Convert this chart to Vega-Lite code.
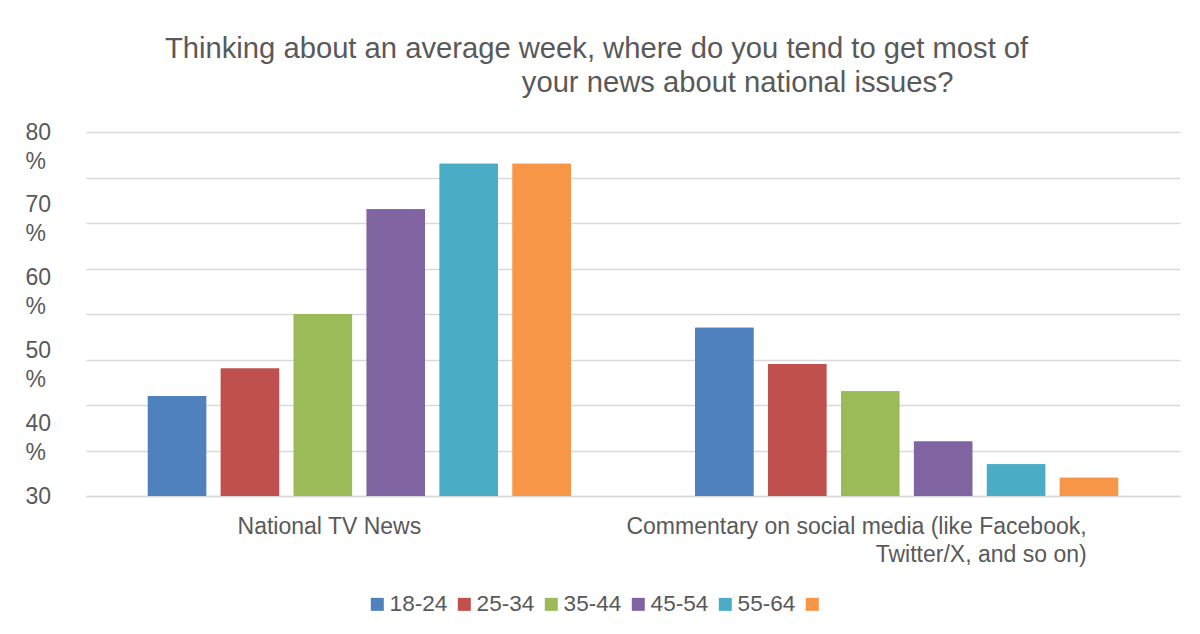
{
  "$schema": "https://vega.github.io/schema/vega-lite/v6.json",
  "width": 1094,
  "height": 364,
  "autosize": {"type": "none"},
  "padding": {"left": 86, "top": 132, "right": 20, "bottom": 138},
  "background": "white",
  "title": {
    "text": [
      "Thinking about an average week, where do you tend to get most of",
      "\u200b\u00a0\u00a0\u00a0\u00a0\u00a0\u00a0\u00a0\u00a0\u00a0\u00a0\u00a0\u00a0\u00a0\u00a0\u00a0\u00a0\u00a0\u00a0\u00a0\u00a0\u00a0\u00a0\u00a0\u00a0\u00a0\u00a0\u00a0\u00a0\u00a0\u00a0\u00a0\u00a0\u00a0\u00a0\u00a0\u00a0\u00a0\u00a0\u00a0\u00a0\u00a0\u00a0\u00a0\u00a0your news about national issues?"
    ],
    "anchor": "start",
    "frame": "group",
    "dx": 79,
    "fontSize": 29.2,
    "lineHeight": 34,
    "font": "Liberation Sans",
    "fontWeight": "normal",
    "color": "#595959",
    "offset": 23
  },
  "data": {
    "values": [
      {"source": "National TV News", "age": "18-24", "pct": 22},
      {"source": "National TV News", "age": "25-34", "pct": 28},
      {"source": "National TV News", "age": "35-44", "pct": 40},
      {"source": "National TV News", "age": "45-54", "pct": 63},
      {"source": "National TV News", "age": "55-64", "pct": 73},
      {"source": "National TV News", "age": "65+", "pct": 73},
      {"source": "Commentary on social media (like Facebook, Twitter/X, and so on)", "age": "18-24", "pct": 37},
      {"source": "Commentary on social media (like Facebook, Twitter/X, and so on)", "age": "25-34", "pct": 29},
      {"source": "Commentary on social media (like Facebook, Twitter/X, and so on)", "age": "35-44", "pct": 23},
      {"source": "Commentary on social media (like Facebook, Twitter/X, and so on)", "age": "45-54", "pct": 12},
      {"source": "Commentary on social media (like Facebook, Twitter/X, and so on)", "age": "55-64", "pct": 7},
      {"source": "Commentary on social media (like Facebook, Twitter/X, and so on)", "age": "65+", "pct": 4}
    ]
  },
  "encoding": {
    "x": {
      "field": "source",
      "type": "nominal",
      "sort": ["National TV News", "Commentary on social media (like Facebook, Twitter/X, and so on)"],
      "scale": {"paddingInner": 0.227, "paddingOuter": 0.113},
      "axis": {
        "title": null,
        "labelAngle": 0,
        "domain": true,
        "domainColor": "#d9d9d9",
        "domainWidth": 1.5,
        "ticks": false,
        "tickSize": 0,
        "labelPadding": 19,
        "labelFontSize": 23,
        "labelFont": "Liberation Sans",
        "labelColor": "#595959",
        "labelLimit": 0,
        "labelLineHeight": 28,
        "labelBaseline": "top",
        "labelExpr": "datum.value == 'National TV News' ? datum.label : ['Commentary on social media (like Facebook,', 'Twitter/X, and so on)']",
        "labelAlign": {"condition": {"test": "datum.value == 'National TV News'", "value": "center"}, "value": "right"},
        "labelOffset": {"condition": {"test": "datum.value == 'National TV News'", "value": -30}, "value": 180}
      }
    },
    "xOffset": {
      "field": "age",
      "type": "nominal",
      "sort": ["18-24", "25-34", "35-44", "45-54", "55-64", "65+"],
      "scale": {"paddingInner": 0.2, "paddingOuter": 0}
    },
    "color": {
      "field": "age",
      "type": "nominal",
      "sort": ["18-24", "25-34", "35-44", "45-54", "55-64", "65+"],
      "scale": {
        "domain": ["18-24", "25-34", "35-44", "45-54", "55-64", "65+"],
        "range": ["#4F81BD", "#C0504D", "#9BBB59", "#8064A2", "#4BACC6", "#F79646"]
      },
      "legend": {
        "title": null,
        "orient": "none",
        "legendX": 280,
        "legendY": 461,
        "direction": "horizontal",
        "symbolType": "square",
        "symbolSize": 169,
        "symbolStrokeWidth": 0,
        "labelFontSize": 22.6,
        "labelFont": "Liberation Sans",
        "labelColor": "#595959",
        "labelOffset": 1,
        "columnPadding": 5,
        "labelExpr": "datum.label == '65+' ? '' : datum.label"
      }
    }
  },
  "layer": [
    {
      "mark": {"type": "bar"},
      "encoding": {
        "y": {
          "field": "pct",
          "type": "quantitative",
          "scale": {"domain": [0, 80], "nice": false},
          "axis": {
            "orient": "left",
            "values": [0, 10, 20, 30, 40, 50, 60, 70, 80],
            "grid": true,
            "gridColor": "#d9d9d9",
            "gridWidth": 1.5,
            "labels": false,
            "ticks": false,
            "domain": false,
            "title": null
          }
        }
      }
    },
    {
      "mark": {"type": "bar"},
      "encoding": {
        "y": {
          "field": "pct",
          "type": "quantitative",
          "scale": {"domain": [0, 80], "nice": false},
          "axis": {
            "orient": "left",
            "values": [0, 16, 32, 48, 64, 80],
            "grid": false,
            "ticks": false,
            "tickSize": 0,
            "domain": false,
            "title": null,
            "labelAlign": "left",
            "labelPadding": 61,
            "labelBaseline": "middle",
            "labelOffset": 0,
            "labelLineHeight": 29,
            "labelFontSize": 23,
            "labelFont": "Liberation Sans",
            "labelColor": "#595959",
            "labelExpr": "datum.value == 80 ? ['80','%'] : datum.value == 64 ? ['70','%'] : datum.value == 48 ? ['60','%'] : datum.value == 32 ? ['50','%'] : datum.value == 16 ? ['40','%'] : ['30','']"
          }
        }
      }
    }
  ],
  "resolve": {"axis": {"y": "independent"}},
  "config": {
    "view": {"stroke": null},
    "font": "Liberation Sans"
  }
}
